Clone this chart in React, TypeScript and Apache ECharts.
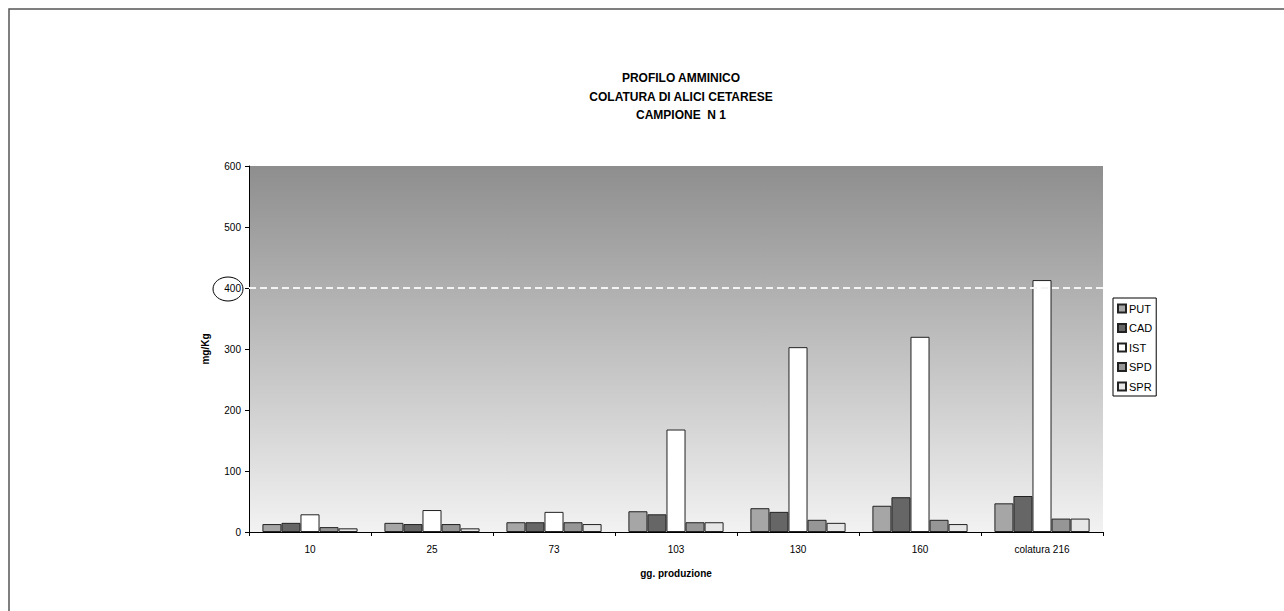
import React, { useEffect, useRef } from "react";
import * as echarts from "echarts";

const categories = ["10", "25", "73", "103", "130", "160", "colatura 216"];
const seriesNames = ["PUT", "CAD", "IST", "SPD", "SPR"];
const PUT = [13, 15, 16, 34, 39, 43, 47];
const CAD = [15, 13, 16, 29, 33, 57, 59];
const IST = [29, 36, 33, 168, 303, 320, 413];
const SPD = [8, 13, 16, 16, 20, 20, 22];
const SPR = [6, 6, 13, 16, 15, 13, 22];
const seriesData = [PUT, CAD, IST, SPD, SPR];
const seriesColors = ["#a6a6a6", "#666666", "#ffffff", "#969696", "#e6e6e6"];
const titleLines = ["PROFILO AMMINICO", "COLATURA DI ALICI CETARESE", "CAMPIONE  N 1"];
const limitValue = 400;

export default function App() {
  const ref = useRef<HTMLDivElement>(null);
  useEffect(() => {
    document.body.style.margin = "0";
    const chart = echarts.init(ref.current!, null, { renderer: "svg" });
    const font = "Arial, 'Liberation Sans', sans-serif";
    chart.setOption({
      animation: false,
      backgroundColor: "#ffffff",
      textStyle: { fontFamily: font },
      title: {
        text: titleLines.join("\n"),
        left: 676,
        textAlign: "center",
        top: 64,
        textStyle: { fontSize: 12, fontWeight: "bold", color: "#000", lineHeight: 18.5, fontFamily: font },
      },
      legend: {
        orient: "vertical",
        left: 1113,
        top: 298,
        width: 47,
        padding: [5, 4, 4, 4],
        borderColor: "#000",
        borderWidth: 1,
        itemWidth: 8,
        itemHeight: 8,
        itemGap: 8.5,
        icon: "rect",
        textStyle: { fontSize: 11, color: "#000", padding: [0, 0, 0, -2], fontFamily: font },
        data: seriesNames,
      },
      grid: {
        left: 249,
        top: 166,
        right: 181,
        bottom: 79,
        show: true,
        borderWidth: 0,
        backgroundColor: new echarts.graphic.LinearGradient(0, 0, 0, 1, [
          { offset: 0, color: "#8e8e8e" },
          { offset: 1, color: "#f2f2f2" },
        ]),
      },
      xAxis: {
        type: "category",
        data: categories,
        name: "gg. produzione",
        nameLocation: "middle",
        nameGap: 36,
        nameTextStyle: { fontSize: 10, fontWeight: "bold", color: "#000" },
        axisLine: { lineStyle: { color: "#000", width: 1 } },
        axisTick: { show: true, length: 4, lineStyle: { color: "#000" } },
        axisLabel: { fontSize: 10, color: "#000", margin: 12 },
      },
      yAxis: {
        type: "value",
        min: 0,
        max: 600,
        interval: 100,
        name: "mg/Kg",
        nameLocation: "middle",
        nameGap: 39,
        nameTextStyle: { fontSize: 10, fontWeight: "bold", color: "#000" },
        axisLine: { show: true, lineStyle: { color: "#000", width: 1 } },
        axisTick: { show: true, length: 4, lineStyle: { color: "#000" } },
        axisLabel: { fontSize: 10, color: "#000", margin: 8 },
        splitLine: { show: false },
      },
      series: seriesNames.map((name, i) => ({
        name,
        type: "bar",
        data: seriesData[i],
        barGap: "0%",
        barCategoryGap: "22%",
        itemStyle: { color: seriesColors[i], borderColor: "#222", borderWidth: 1 },
        ...(i === 2
          ? {
              markLine: {
                silent: true,
                symbol: "none",
                label: { show: false },
                lineStyle: { color: "#f4f4f4", type: [7, 4], width: 2 },
                data: [{ yAxis: limitValue }],
              },
            }
          : {}),
      })),
      graphic: [
        {
          type: "rect",
          shape: { x: 9, y: 9, width: 1400, height: 800 },
          style: { fill: "none", stroke: "#555", lineWidth: 1.5 },
          silent: true,
          z: 100,
        },
        {
          type: "ellipse",
          shape: { cx: 228, cy: 289, rx: 15, ry: 12 },
          style: { fill: "none", stroke: "#000", lineWidth: 1 },
          silent: true,
          z: 100,
        },
      ],
    });
    return () => chart.dispose();
  }, []);
  return <div ref={ref} style={{ width: 1284, height: 611 }} />;
}
